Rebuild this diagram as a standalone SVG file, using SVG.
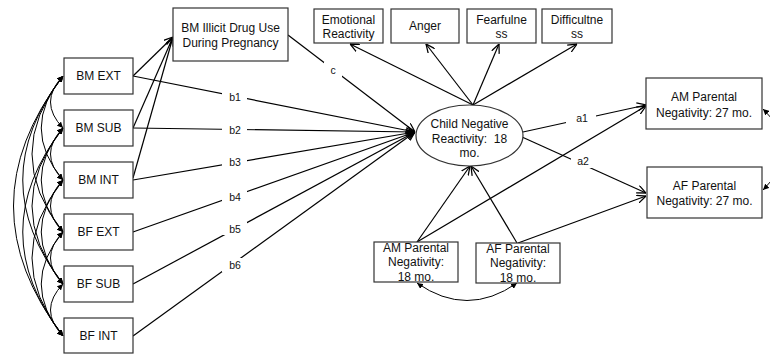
<svg xmlns="http://www.w3.org/2000/svg" width="770" height="354" viewBox="0 0 770 354">
<defs>
<marker id="arr" viewBox="0 0 10 10" refX="10" refY="5" markerWidth="9" markerHeight="9" orient="auto" markerUnits="userSpaceOnUse"><path d="M0,0.5 L10,5 L0,9.5" fill="none" stroke="#000" stroke-width="1.4"/></marker>
<marker id="sa" viewBox="0 0 10 10" refX="10" refY="5" markerWidth="6" markerHeight="6" orient="auto-start-reverse" markerUnits="userSpaceOnUse"><path d="M0,0 L10,5 L0,10 z" fill="#000"/></marker>
</defs>
<style>
.box{fill:#fff;stroke:#333;stroke-width:1.2}
.t{font-family:"Liberation Sans",Arial,sans-serif;font-size:12px;fill:#111;text-anchor:middle;white-space:pre}
.lab{font-family:"Liberation Sans",Arial,sans-serif;font-size:10.5px;fill:#111;text-anchor:middle}
.ln{fill:none;stroke:#000;stroke-width:1.2}
.a{marker-end:url(#arr)}
.cv{fill:none;stroke:#000;stroke-width:1;marker-start:url(#sa);marker-end:url(#sa)}
.gap{fill:#fff}
</style>
<rect width="770" height="354" fill="#fff"/>
<g id="connectors">
<!-- covariances left -->
<path class="cv" d="M63,76 Q38,102 63,128"/>
<path class="cv" d="M63,76 Q19.5,128 63,180"/>
<path class="cv" d="M63,76 Q1,154 63,232"/>
<path class="cv" d="M63,76 Q-17.5,180 63,284"/>
<path class="cv" d="M63,76 Q-36,206 63,336"/>
<path class="cv" d="M63,128 Q38,154 63,180"/>
<path class="cv" d="M63,128 Q19.5,180 63,232"/>
<path class="cv" d="M63,128 Q1,206 63,284"/>
<path class="cv" d="M63,128 Q-17.5,232 63,336"/>
<path class="cv" d="M63,180 Q38,206 63,232"/>
<path class="cv" d="M63,180 Q19.5,232 63,284"/>
<path class="cv" d="M63,180 Q1,258 63,336"/>
<path class="cv" d="M63,232 Q38,258 63,284"/>
<path class="cv" d="M63,232 Q19.5,284 63,336"/>
<path class="cv" d="M63,284 Q38,310 63,336"/>
<!-- to drug use -->
<path class="ln a" d="M133,76 L173,37"/>
<path class="ln a" d="M133,128 L173,37"/>
<path class="ln a" d="M133,178 L173,37"/>
<!-- b paths -->
<path class="ln a" d="M133,76 L415,132"/>
<path class="ln a" d="M133,128 L415,132"/>
<path class="ln a" d="M133,180 L415,132"/>
<path class="ln a" d="M133,232 L415,132"/>
<path class="ln a" d="M133,284 L415,132"/>
<path class="ln a" d="M133,336 L415,132"/>
<!-- c path -->
<path class="ln a" d="M288,35 L415,132"/>
<!-- indicators -->
<path class="ln a" d="M473,105 L350,44"/>
<path class="ln a" d="M473,105 L426,44"/>
<path class="ln a" d="M473,105 L499,44"/>
<path class="ln a" d="M473,105 L577,44"/>
<!-- a paths -->
<path class="ln a" d="M523,132 L646,105"/>
<path class="ln a" d="M522,137 L646,193"/>
<!-- bottom -->
<path class="ln a" d="M417,242 L470,166"/>
<path class="ln a" d="M517,243 L471,166"/>
<path class="ln a" d="M417,242 L646,106"/>
<path class="ln a" d="M518,243 L646,196"/>
<path class="cv" d="M417,283 Q467,318 517,283"/>
<path class="cv" d="M763,109 Q805,149 763,190"/>
<!-- label gaps -->
<rect class="gap" x="222" y="90" width="25" height="13"/>
<rect class="gap" x="222" y="123" width="25" height="13"/>
<rect class="gap" x="222" y="156" width="25" height="13"/>
<rect class="gap" x="222" y="190" width="25" height="13"/>
<rect class="gap" x="222" y="222" width="25" height="13"/>
<rect class="gap" x="222" y="258" width="25" height="14"/>
<rect class="gap" x="324" y="62" width="18" height="16"/>
<rect class="gap" x="566" y="110" width="30" height="14"/>
<rect class="gap" x="571" y="154" width="25" height="14"/>
<text class="lab" x="235" y="101">b1</text>
<text class="lab" x="235" y="134">b2</text>
<text class="lab" x="235" y="166">b3</text>
<text class="lab" x="235" y="201">b4</text>
<text class="lab" x="235" y="233">b5</text>
<text class="lab" x="235" y="269">b6</text>
<text class="lab" x="333" y="74">c</text>
<text class="lab" x="582" y="122">a1</text>
<text class="lab" x="583" y="165">a2</text>
</g>
<g id="bm-ext"><rect class="box" x="64" y="58" width="69" height="36"/><text class="t" x="98.5" y="80">BM EXT</text></g>
<g id="bm-sub"><rect class="box" x="64" y="110" width="69" height="36"/><text class="t" x="98.5" y="132">BM SUB</text></g>
<g id="bm-int"><rect class="box" x="64" y="162" width="69" height="36"/><text class="t" x="98.5" y="184">BM INT</text></g>
<g id="bf-ext"><rect class="box" x="64" y="214" width="69" height="36"/><text class="t" x="98.5" y="236">BF EXT</text></g>
<g id="bf-sub"><rect class="box" x="64" y="266" width="69" height="36"/><text class="t" x="98.5" y="288">BF SUB</text></g>
<g id="bf-int"><rect class="box" x="64" y="318" width="69" height="35"/><text class="t" x="98.5" y="340">BF INT</text></g>
<g id="drug"><rect class="box" x="173" y="8" width="115" height="53"/><text class="t" x="230.5" y="32">BM Illicit Drug Use</text><text class="t" x="230.5" y="47">During Pregnancy</text></g>
<g id="emo"><rect class="box" x="314" y="9" width="69" height="34"/><text class="t" x="348.5" y="23.5">Emotional</text><text class="t" x="348.5" y="37.5">Reactivity</text></g>
<g id="anger"><rect class="box" x="391" y="9" width="68" height="34"/><text class="t" x="425" y="30">Anger</text></g>
<g id="fear"><rect class="box" x="467" y="9" width="69" height="34"/><text class="t" x="501.5" y="23.5">Fearfulne</text><text class="t" x="501.5" y="37.5">ss</text></g>
<g id="diff"><rect class="box" x="542" y="9" width="70" height="34"/><text class="t" x="577" y="23.5">Difficultne</text><text class="t" x="577" y="37.5">ss</text></g>
<g id="child"><ellipse class="box" cx="469.5" cy="135.5" rx="53.5" ry="30.5"/><text class="t" x="469.5" y="128">Child Negative</text><text class="t" x="469.5" y="143">Reactivity:  18</text><text class="t" x="469.5" y="157">mo.</text></g>
<g id="am27"><rect class="box" x="646" y="78" width="116" height="51"/><text class="t" x="704" y="101">AM Parental</text><text class="t" x="704" y="117">Negativity: 27 mo.</text></g>
<g id="af27"><rect class="box" x="647" y="167" width="115" height="51"/><text class="t" x="704.5" y="190">AF Parental</text><text class="t" x="704.5" y="205">Negativity: 27 mo.</text></g>
<g id="am18"><rect class="box" x="374" y="242" width="84" height="40"/><text class="t" x="416" y="252">AM Parental</text><text class="t" x="416" y="266">Negativity:</text><text class="t" x="416" y="281">18 mo.</text></g>
<g id="af18"><rect class="box" x="476" y="243" width="84" height="40"/><text class="t" x="518" y="253">AF Parental</text><text class="t" x="518" y="267">Negativity:</text><text class="t" x="518" y="282">18 mo.</text></g>
</svg>
